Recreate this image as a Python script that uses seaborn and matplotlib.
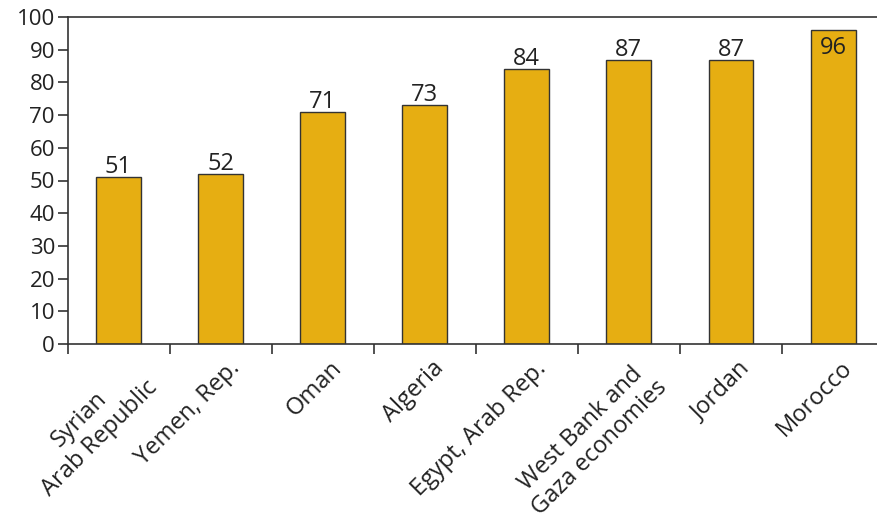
import matplotlib
matplotlib.use("Agg")
import matplotlib.pyplot as plt
import matplotlib.transforms as mtransforms
import seaborn as sns
import pandas as pd
import numpy as np
from matplotlib.ticker import FixedLocator

categories = ["Syrian\nArab Republic", "Yemen, Rep.", "Oman", "Algeria",
              "Egypt, Arab Rep.", "West Bank and\nGaza economies", "Jordan", "Morocco"]
values = [51, 52, 71, 73, 84, 87, 87, 96]
yticks = [0, 10, 20, 30, 40, 50, 60, 70, 80, 90, 100]

sns.set_theme(style="white")
plt.rcParams['font.family'] = ['Open Sans', 'DejaVu Sans']

df = pd.DataFrame({"country": categories, "value": values})

fig = plt.figure(figsize=(8.78, 5.21), dpi=100)
ax = fig.add_axes([67.5 / 878, 1 - 344 / 521, (878 - 67.5) / 878, (344 - 17) / 521])
sns.barplot(data=df, x="country", y="value", color="#E6AE12", width=0.44,
            edgecolor="#333333", linewidth=1.0, saturation=1, ax=ax)

ax.set_xlim(-0.5, 7.44)
ax.set_ylim(0, 100)
ax.set_yticks(yticks)
ax.set_xlabel("")
ax.set_ylabel("")

for s in ["left", "top", "bottom"]:
    ax.spines[s].set_visible(True)
    ax.spines[s].set_color("#333333")
    ax.spines[s].set_linewidth(1.2)
ax.spines["right"].set_visible(False)

ax.tick_params(axis="y", which="major", direction="out", length=7, width=1.2,
               color="#333333", labelsize=16, labelcolor="#222222", pad=2, left=True)
ax.tick_params(axis="x", which="major", length=0, labelsize=17, labelcolor="#222222", pad=9)
ax.xaxis.set_minor_locator(FixedLocator(np.arange(-0.5, 7.5, 1.0)))
ax.tick_params(axis="x", which="minor", direction="out", length=7, width=1.2,
               color="#333333", bottom=True)

offset = mtransforms.ScaledTranslation(7 / 100, 0, fig.dpi_scale_trans)
for lab in ax.get_xticklabels():
    lab.set_rotation(45)
    lab.set_ha("right")
    lab.set_va("top")
    lab.set_rotation_mode("anchor")
    lab.set_multialignment("center")
    lab.set_linespacing(1.2)
    lab.set_transform(lab.get_transform() + offset)

for i, v in enumerate(values):
    if v >= 95:
        ax.text(i, v - 1.9, str(v), ha="center", va="top", fontsize=17, color="#222222")
    else:
        ax.text(i, v + 1.2, str(v), ha="center", va="baseline", fontsize=17, color="#222222")

fig.savefig("out.png", dpi=100)
